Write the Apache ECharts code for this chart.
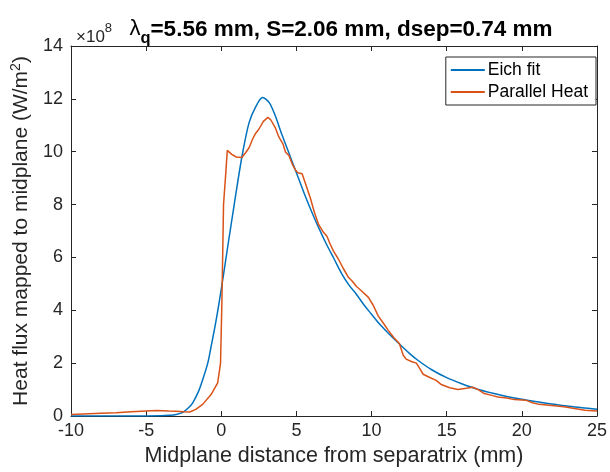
<!DOCTYPE html>
<html>
<head>
<meta charset="utf-8">
<script src="https://cdn.jsdelivr.net/npm/echarts@6/dist/echarts.min.js"></script>
<style>
  html, body { margin: 0; padding: 0; background: #fff; }
  #root { width: 610px; height: 472px; }
</style>
</head>
<body>
<div id="root"></div>
<script>
// values, y in units of 1e8 W/m^2
const eichX = [-10, -6, -4, -3.4, -3, -2.56, -2.2, -1.9, -1.5, -1.24, -0.9, -0.68, -0.35, 0, 0.4, 0.86, 1.37, 1.85, 2.29, 2.75, 3.2, 3.6, 4.0, 4.5, 5.0, 5.5, 6.0, 6.5, 7.0, 7.5, 8.0, 8.5, 9.0, 9.5, 10, 10.5, 11, 11.8, 12.5, 13.1, 14, 15, 16, 17, 18, 19, 20, 21, 22, 23, 24, 25]
const eichY = [0, 0, 0.01, 0.03, 0.06, 0.14, 0.3, 0.5, 0.95, 1.37, 2.0, 2.62, 3.6, 4.8, 6.3, 8.0, 9.8, 11.1, 11.7, 12.05, 11.85, 11.35, 10.7, 9.95, 9.2, 8.45, 7.75, 7.1, 6.5, 5.95, 5.4, 4.95, 4.6, 4.2, 3.85, 3.5, 3.2, 2.75, 2.38, 2.1, 1.75, 1.45, 1.22, 1.02, 0.87, 0.74, 0.63, 0.54, 0.45, 0.38, 0.31, 0.26]

const heatX = [-10, -8, -7, -6, -5, -4.3, -3.5, -3, -2.5, -2.1, -1.7, -1.24, -0.68, -0.24, -0.05, 0.04, 0.15, 0.3, 0.4, 0.7, 1.0, 1.37, 1.6, 1.85, 2.1, 2.29, 2.5, 2.8, 3.1, 3.3, 3.6, 3.84, 4.1, 4.28, 4.5, 4.75, 4.94, 5.1, 5.38, 5.6, 5.93, 6.2, 6.48, 6.8, 7.03, 7.25, 7.47, 7.8, 8.1, 8.47, 8.69, 9.0, 9.3, 9.79, 10.1, 10.45, 10.8, 11.1, 11.5, 11.85, 12.1, 12.3, 12.65, 12.98, 13.2, 13.43, 13.98, 14.3, 14.64, 15.2, 15.74, 16.3, 16.73, 17.1, 17.5, 18.0, 18.4, 19.0, 19.5, 20.26, 20.7, 21.14, 22.0, 22.8, 23.5, 24.2, 25]
const heatY = [0.06, 0.1, 0.12, 0.16, 0.19, 0.21, 0.19, 0.18, 0.16, 0.15, 0.25, 0.44, 0.81, 1.25, 2.0, 4.3, 8.0, 9.2, 10.05, 9.9, 9.8, 9.78, 9.95, 10.15, 10.5, 10.7, 10.85, 11.15, 11.3, 11.2, 10.9, 10.55, 10.3, 9.98, 9.86, 9.5, 9.3, 9.2, 9.17, 8.8, 8.24, 7.7, 7.24, 6.95, 6.8, 6.5, 6.24, 5.93, 5.6, 5.24, 5.12, 4.9, 4.75, 4.49, 4.2, 3.78, 3.5, 3.25, 2.95, 2.74, 2.31, 2.15, 2.06, 2.0, 1.8, 1.58, 1.43, 1.35, 1.19, 1.07, 1.0, 1.05, 1.09, 1.0, 0.85, 0.78, 0.72, 0.68, 0.62, 0.6, 0.5, 0.44, 0.4, 0.35, 0.28, 0.22, 0.19]

const xTicks = [-10, -5, 0, 5, 10, 15, 20, 25]
const yTicks = [0, 2, 4, 6, 8, 10, 12, 14]

const font = 'Liberation Sans, Arial, Helvetica, sans-serif'
const ink = '#262626'

const zip = (xs, ys) => xs.map((x, i) => [x, ys[i]])

const chart = echarts.init(document.getElementById('root'))

const axisCommon = {
  type: 'value',
  axisLine: { show: true, onZero: false, lineStyle: { color: ink, width: 1 } },
  axisTick: { show: true, inside: true, length: 5, lineStyle: { color: ink } },
  splitLine: { show: false }
}

chart.setOption({
  animation: false,
  textStyle: { fontFamily: font },
  title: [
    {
      left: 336,
      textAlign: 'center',
      top: 13,
      text: '{l|λ}{q|q}{b|=5.56 mm, S=2.06 mm, dsep=0.74 mm}',
      textStyle: {
        rich: {
          l: { fontFamily: font, fontSize: 22, fontWeight: 'normal', color: '#000', verticalAlign: 'top', lineHeight: 29 },
          q: { fontFamily: font, fontSize: 16.5, fontWeight: 'bold', color: '#000', verticalAlign: 'bottom', lineHeight: 29 },
          b: { fontFamily: font, fontSize: 22.5, fontWeight: 'bold', color: '#000', verticalAlign: 'top', lineHeight: 29 }
        }
      }
    },
    {
      left: 71,
      top: 17,
      text: '{a|×10}{s|8}',
      textStyle: {
        rich: {
          a: { fontFamily: font, fontSize: 17, fontWeight: 'normal', color: ink, verticalAlign: 'bottom', lineHeight: 24 },
          s: { fontFamily: font, fontSize: 13, fontWeight: 'normal', color: ink, verticalAlign: 'top', lineHeight: 24 }
        }
      }
    }
  ],
  legend: {
    orient: 'vertical',
    right: 14,
    top: 57,
    backgroundColor: '#fff',
    borderColor: ink,
    borderWidth: 1,
    borderRadius: 0,
    padding: [4, 8, 4, 5],
    itemGap: 4,
    itemWidth: 34,
    itemHeight: 2,
    icon: 'rect',
    textStyle: { fontFamily: font, fontSize: 17.5, color: '#000', padding: [0, 0, 0, -2] },
    data: ['Eich fit', 'Parallel Heat']
  },
  grid: { left: 71, right: 10, top: 46, bottom: 52 },
  xAxis: [
    Object.assign({}, axisCommon, {
      min: -10, max: 25, interval: 5,
      name: 'Midplane distance from separatrix (mm)',
      nameLocation: 'middle',
      nameGap: 29,
      nameTextStyle: { fontFamily: font, fontSize: 21.5, color: ink },
      axisLabel: { margin: 6, fontFamily: font, fontSize: 18, color: ink,
        customValues: xTicks },
      axisTick: { show: true, inside: true, length: 5, lineStyle: { color: ink }, customValues: xTicks }
    }),
    Object.assign({}, axisCommon, {
      position: 'top',
      min: -10, max: 25, interval: 5,
      axisLabel: { show: false }
    })
  ],
  yAxis: [
    Object.assign({}, axisCommon, {
      min: 0, max: 14, interval: 2,
      name: 'Heat flux mapped to midplane (W/m{sup|2})',
      nameLocation: 'middle',
      nameGap: 38,
      nameTextStyle: { fontFamily: font, fontSize: 21, color: ink,
        rich: { sup: { fontFamily: font, fontSize: 14, color: ink, verticalAlign: 'top', lineHeight: 24 } } },
      axisLabel: { margin: 8, fontFamily: font, fontSize: 18, color: ink,
        customValues: yTicks },
      axisTick: { show: true, inside: true, length: 5, lineStyle: { color: ink }, customValues: yTicks }
    }),
    Object.assign({}, axisCommon, {
      position: 'right',
      min: 0, max: 14, interval: 2,
      axisLabel: { show: false }
    })
  ],
  series: [
    {
      name: 'Eich fit',
      type: 'line',
      symbol: 'none',
      color: '#0072BD',
      lineStyle: { width: 1.5, color: '#0072BD' },
      clip: true,
      data: zip(eichX, eichY),
      smooth: 0.3
    },
    {
      name: 'Parallel Heat',
      type: 'line',
      symbol: 'none',
      color: '#D95319',
      lineStyle: { width: 1.5, color: '#D95319' },
      clip: true,
      data: zip(heatX, heatY)
    }
  ]
})
</script>
</body>
</html>
